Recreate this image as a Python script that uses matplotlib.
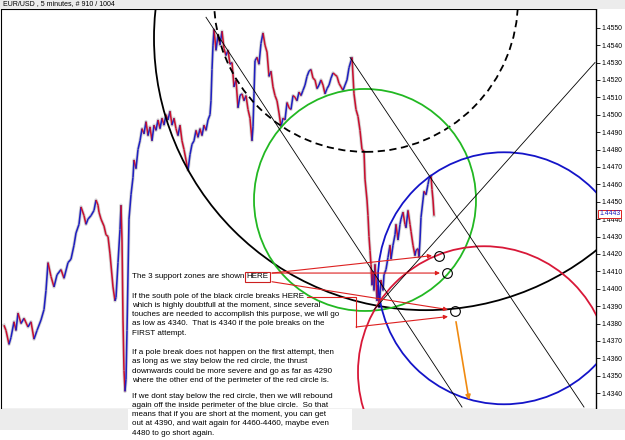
import matplotlib
matplotlib.use("Agg")
import matplotlib.pyplot as plt
from matplotlib.patches import Ellipse, Rectangle
from matplotlib.collections import LineCollection
from matplotlib.transforms import blended_transform_factory

plt.rcParams['font.family'] = ['Liberation Sans', 'DejaVu Sans']

# EUR/USD 5 min, closes (bar slot, price)
bars = [3, 5, 8, 10, 13, 15, 17, 20, 23, 27, 30, 33, 36, 40, 43, 45, 47, 50, 53, 56,
        60, 63, 67, 70, 73, 75, 78, 80, 83, 85, 87, 90, 93, 95, 97, 98, 100, 103, 105, 107,
        109, 112, 114, 115, 117, 119, 120, 121, 122, 123, 124, 125, 126, 128, 130, 132, 133, 135, 137, 139,
        141, 143, 145, 147, 149, 151, 153, 155, 157, 159, 161, 163, 165, 167, 169, 171, 173, 175, 177, 179,
        181, 183, 185, 187, 189, 191, 193, 195, 197, 199, 201, 203, 205, 207, 209, 210, 211, 212, 213, 215,
        217, 219, 221, 223, 225, 227, 229, 231, 233, 235, 237, 239, 241, 243, 245, 247, 249, 251, 252, 253,
        254, 256, 258, 260, 262, 264, 266, 268, 270, 272, 274, 276, 278, 280, 282, 284, 286, 288, 290, 292,
        294, 296, 298, 300, 302, 304, 306, 308, 310, 312, 314, 316, 318, 320, 322, 324, 326, 328, 330, 332,
        334, 336, 338, 340, 342, 344, 346, 348, 350, 351, 353, 355, 357, 359, 361, 363, 364, 366, 367, 368,
        369, 370, 371, 372, 373, 374, 375, 376, 377, 378, 379, 380, 382, 383, 385, 387, 389, 390, 392, 394,
        395, 397, 399, 400, 402, 404, 405, 407, 409, 410, 412, 414, 415, 417, 418, 419, 420, 422, 423, 425,
        427, 428, 430, 431, 432, 433]
closes = [1.4379, 1.4376, 1.4368, 1.4372, 1.4381, 1.4376, 1.4386, 1.4380, 1.4383, 1.4378,
          1.4381, 1.4371, 1.4376, 1.4382, 1.4388, 1.4399, 1.4415, 1.4407, 1.4401, 1.4408,
          1.4411, 1.4406, 1.4415, 1.4417, 1.4425, 1.4432, 1.4437, 1.4447, 1.4442, 1.4437,
          1.4440, 1.4442, 1.4445, 1.4451, 1.4448, 1.4444, 1.4440, 1.4436, 1.4431, 1.4430,
          1.4420, 1.4401, 1.4393, 1.4395, 1.4415, 1.4434, 1.4448, 1.4428, 1.4382, 1.4353,
          1.4341, 1.4348, 1.4376, 1.4440, 1.4454, 1.4464, 1.4474, 1.4469, 1.4480, 1.4485,
          1.4492, 1.4489, 1.4496, 1.4488, 1.4493, 1.4485, 1.4494, 1.4491, 1.4497, 1.4492,
          1.4498, 1.4494, 1.4500, 1.4497, 1.4502, 1.4494, 1.4498, 1.4492, 1.4488, 1.4494,
          1.4485, 1.4480, 1.4474, 1.4468, 1.4477, 1.4483, 1.4485, 1.4491, 1.4487, 1.4492,
          1.4488, 1.4494, 1.4491, 1.4497, 1.4500, 1.4508, 1.4526, 1.4540, 1.4549, 1.4537,
          1.4546, 1.4540, 1.4548, 1.4538, 1.4534, 1.4537, 1.4529, 1.4530, 1.4516, 1.4520,
          1.4504, 1.4511, 1.4512, 1.4508, 1.4511, 1.4503, 1.4498, 1.4485, 1.4493, 1.4512,
          1.4531, 1.4533, 1.4529, 1.4541, 1.4547, 1.4540, 1.4536, 1.4522, 1.4525, 1.4516,
          1.4511, 1.4508, 1.4501, 1.4493, 1.4498, 1.4497, 1.4507, 1.4504, 1.4503, 1.4511,
          1.4510, 1.4508, 1.4513, 1.4511, 1.4514, 1.4517, 1.4522, 1.4525, 1.4526, 1.4521,
          1.4520, 1.4515, 1.4517, 1.4520, 1.4517, 1.4512, 1.4515, 1.4517, 1.4521, 1.4524,
          1.4523, 1.4522, 1.4518, 1.4516, 1.4514, 1.4517, 1.4520, 1.4527, 1.4531, 1.4533,
          1.4512, 1.4503, 1.4499, 1.4491, 1.4480, 1.4479, 1.4463, 1.4451, 1.4442, 1.4430,
          1.4422, 1.4414, 1.4402, 1.4410, 1.4399, 1.4414, 1.4405, 1.4393, 1.4402, 1.4389,
          1.4396, 1.4405, 1.4399, 1.4408, 1.4411, 1.4418, 1.4425, 1.4417, 1.4425, 1.4431,
          1.4437, 1.4428, 1.4437, 1.4440, 1.4444, 1.4437, 1.4435, 1.4445, 1.4437, 1.4433,
          1.4425, 1.4419, 1.4422, 1.4423, 1.4418, 1.4428, 1.4441, 1.4451, 1.4456, 1.4454,
          1.4460, 1.4463, 1.4465, 1.4457, 1.4451, 1.4442]
last_price = 1.4443

price_ticks = [1.4340, 1.4350, 1.4360, 1.4370, 1.4380, 1.4390, 1.4400, 1.4410, 1.4420, 1.4430, 1.4440,
               1.4450, 1.4460, 1.4470, 1.4480, 1.4490, 1.4500, 1.4510, 1.4520, 1.4530, 1.4540, 1.4550]
time_ticks = [17, 39, 61, 83, 105, 127, 361, 383, 405, 427, 449, 471, 493, 515, 537, 559, 581]
# the 12:00 label is half hidden by the comment block, only "12" shows
time_labels = ['16:00', '20:00', '00:00', '04:00', '08:00', '', '04:00', '08:00', '12:00',
               '16:00', '20:00', '00:00', '04:00', '08:00', '12:00', '16:00', '20:00']
date_labels = ['Aug/25/11', '26', '31']
date_pos = [23, 62, 472]

# circles: centre (bar, price) and radius in bar slots
circle_bar = [365, 425, 364, 503, 483]
circle_price = [1.4566, 1.4544, 1.4451, 1.4406, 1.4352]
circle_radius = [152, 272, 111, 126, 126]
circle_color = ['black', 'black', '#22b822', '#1414c8', '#d81838']
circle_style = ['dashed', 'solid', 'solid', 'solid', 'solid']

# thin trend lines
trend_x = [(205, 461), (349, 583), (373, 594)]
trend_y = [(1.4556, 1.4332), (1.4533, 1.4332), (1.4388, 1.4530)]

# support zones marked with small circles
zone_bar = [438, 446, 454]
zone_price = [1.4419, 1.4409, 1.4387]

# red arrows from the text ("HERE") to the zones
arrow_from = [(271, 1.4409), (271, 1.4409), (271, 1.4404), (355, 1.4378)]
arrow_to = [(431, 1.4419), (439, 1.4409), (447, 1.4388), (447, 1.4384)]
pole_path_x = [306, 355, 355]
pole_path_y = [1.4395, 1.4395, 1.4378]
target_from = (455, 1.4381)
target_to = (468, 1.4336)

fig = plt.figure(figsize=(6.25, 4.4), dpi=100)
fig.patch.set_facecolor('white')

def fx(px):
    return px / 625

def fy(py):
    return 1 - py / 440

# grey strips (title bar, time axis)
fig.patches.append(Rectangle((0, fy(9)), 1, 9 / 440, transform=fig.transFigure,
                             facecolor='#ececec', edgecolor='none', zorder=0))
fig.patches.append(Rectangle((0, fy(430)), 1, 21 / 440, transform=fig.transFigure,
                             facecolor='#ececec', edgecolor='none', zorder=0))
fig.patches.append(Rectangle((fx(128), 0), fx(352) - fx(128), fy(409), transform=fig.transFigure,
                             facecolor='white', edgecolor='none', zorder=1))

ax = fig.add_axes([fx(1), fy(409), fx(596) - fx(1), fy(9) - fy(409)])
ax.set_xlim(0, 595)
ax.set_ylim(1.433087, 1.456075)
ax.set_facecolor('white')

# price line, blue up / red down
segs = []
cols = []
for i in range(len(bars) - 1):
    segs.append([(bars[i], closes[i]), (bars[i + 1], closes[i + 1])])
    cols.append('#2020c0' if closes[i + 1] >= closes[i] else '#c81030')
ax.plot(bars, closes, color='#888888', lw=2.4, alpha=0.35, zorder=2)
ax.add_collection(LineCollection(segs, colors=cols, linewidths=1.15, zorder=3))

# circles drawn round on screen
fig.canvas.draw()
bb = ax.get_window_extent()
k = (ax.get_ylim()[1] - ax.get_ylim()[0]) / bb.height / ((ax.get_xlim()[1] - ax.get_xlim()[0]) / bb.width)
for cx, cy, r, c, ls in zip(circle_bar, circle_price, circle_radius, circle_color, circle_style):
    e = Ellipse((cx, cy), 2 * r, 2 * r * k, fill=False, edgecolor=c, lw=1.3, zorder=4)
    if ls == 'dashed':
        e.set_linestyle((0, (4, 2.5)))
    ax.add_patch(e)

for (x0, x1), (y0, y1) in zip(trend_x, trend_y):
    ax.plot([x0, x1], [y0, y1], color='black', lw=0.6, zorder=4)

red = '#dd2020'
ax.plot(pole_path_x, pole_path_y, color=red, lw=0.8, zorder=5)
for a, b in zip(arrow_from, arrow_to):
    ax.annotate('', xy=b, xytext=a,
                arrowprops=dict(arrowstyle='-|>', color=red, lw=0.8, mutation_scale=6,
                                shrinkA=0, shrinkB=0), zorder=5)
ax.annotate('', xy=target_to, xytext=target_from,
            arrowprops=dict(arrowstyle='-|>', color='#f08a10', lw=1.2, mutation_scale=7,
                            shrinkA=0, shrinkB=0), zorder=5)
ax.plot(zone_bar, zone_price, 'o', ms=7, mfc='none', mec='black', mew=0.8, zorder=6)

# axes styling
ax.yaxis.tick_right()
ax.set_yticks(price_ticks)
ax.set_yticklabels(['%.4f' % p for p in price_ticks])
ax.set_xticks(time_ticks)
ax.set_xticklabels(time_labels)
ax.tick_params(axis='y', labelsize=4.9, length=3, width=0.6, pad=1)
ax.tick_params(axis='x', labelsize=4.9, length=2, width=0.6, pad=2, color='#cc4444')
for s in ax.spines.values():
    s.set_linewidth(0.8)
ax.spines['right'].set_linewidth(1.0)

ax.annotate('%.4f' % last_price, xy=(1, last_price), xycoords=('axes fraction', 'data'),
            xytext=(2.2, 0), textcoords='offset points', va='center', ha='left',
            fontsize=4.9, color='#2020c0',
            bbox=dict(boxstyle='square,pad=0.12', fc='white', ec='#dd2020', lw=0.7))

trans = blended_transform_factory(ax.transData, fig.transFigure)
for lbl, p in zip(date_labels, date_pos):
    ax.text(p, fy(424), lbl, transform=trans, fontsize=4.9, ha='center', va='center',
            clip_on=False)
ax.text(123, fy(415), '12', transform=trans, fontsize=4.9, ha='left', va='center', clip_on=False)

fig.text(fx(3), fy(4), 'EUR/USD , 5 minutes, # 910 / 1004', fontsize=5, va='center', ha='left')

# comment block
tf = 5.8
t1 = fig.text(fx(132), fy(277), 'The 3 support zones are shown ', fontsize=tf, va='center', zorder=7)
ax.annotate('HERE', xy=(1, 0.5), xycoords=t1, va='center', ha='left', fontsize=tf,
            bbox=dict(boxstyle='square,pad=0.15', fc='white', ec='#cc2020', lw=0.8),
            annotation_clip=False, zorder=7)

para2 = ['If the south pole of the black circle breaks HERE',
         'which is highly doubtfull at the moment, since several',
         'touches are needed to accomplish this purpose, we will go',
         'as low as 4340.  That is 4340 if the pole breaks on the',
         'FIRST attempt.']
para3 = ['If a pole break does not happen on the first attempt, then',
         'as long as we stay below the red circle, the thrust',
         'downwards could be more severe and go as far as 4290',
         'where the other end of the perimeter of the red circle is.']
para4 = ['If we dont stay below the red circle, then we will rebound',
         'again off the inside perimeter of the blue circle.  So that',
         'means that if you are short at the moment, you can get',
         'out at 4390, and wait again for 4460-4460, maybe even',
         '4480 to go short again.']
for lines, y0 in [(para2, 296), (para3, 352.5), (para4, 396)]:
    for i, line in enumerate(lines):
        fig.text(fx(132), fy(y0 + i * 9.3), line, fontsize=tf, va='center', ha='left', zorder=7)

fig.savefig('out.png', dpi=100)
